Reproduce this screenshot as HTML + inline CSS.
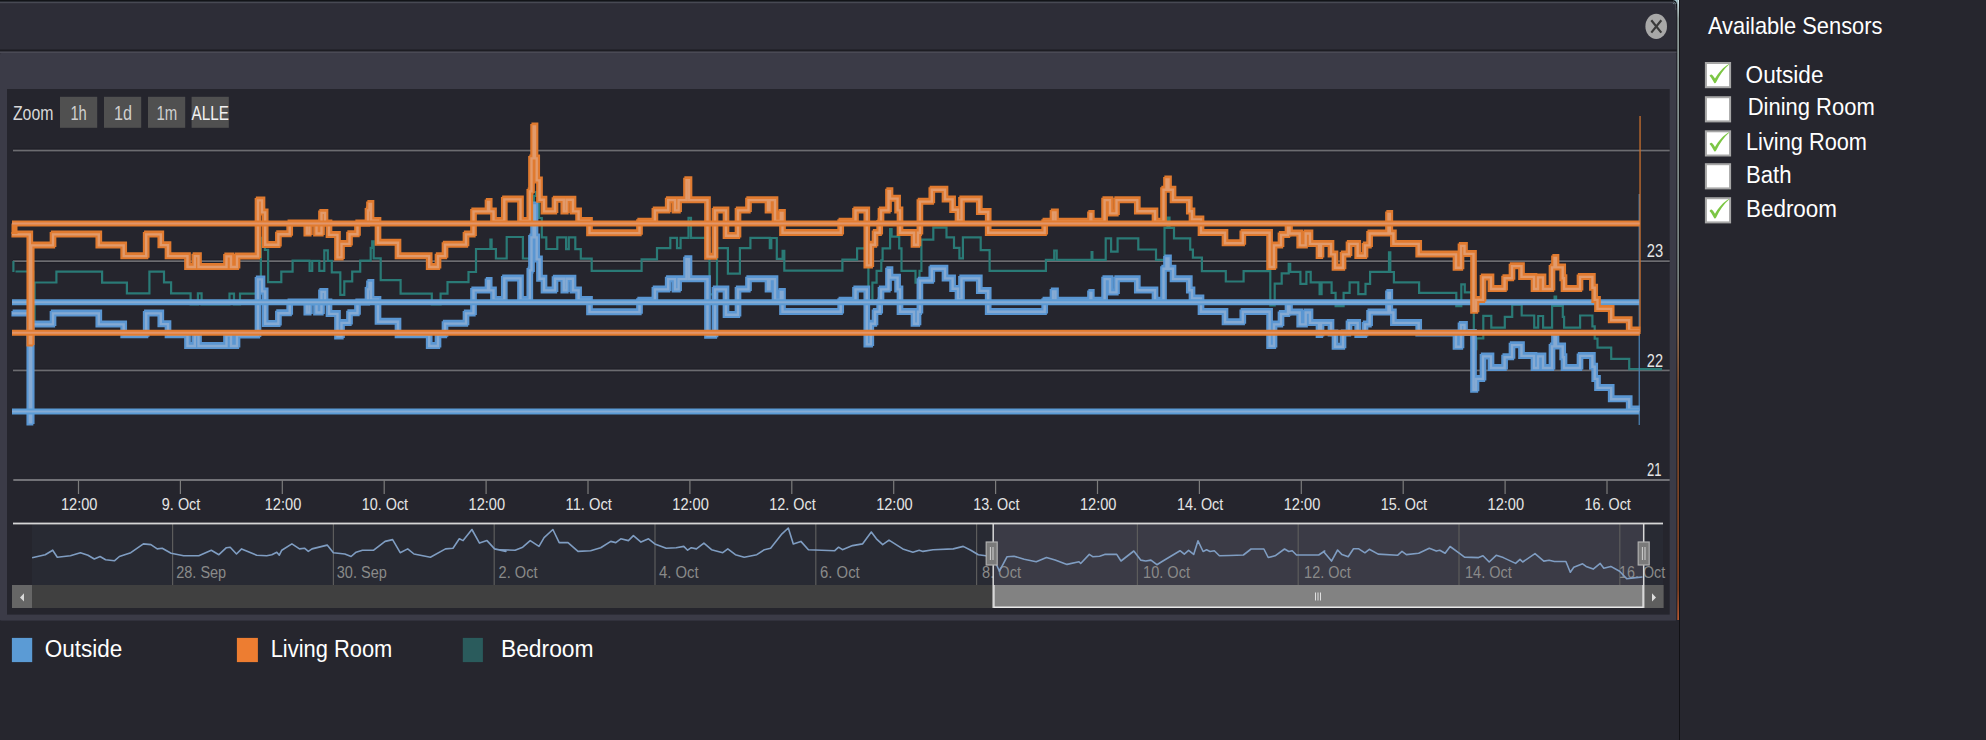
<!DOCTYPE html>
<html><head><meta charset="utf-8"><title>Sensors chart</title>
<style>
html,body{margin:0;padding:0;background:#26262e;overflow:hidden;}
body{width:1986px;height:740px;font-family:"Liberation Sans",sans-serif;}
svg{display:block;}
</style></head><body>
<svg width="1986" height="740" viewBox="0 0 1986 740"><rect x="0" y="0" width="1986" height="740" fill="#26262e"/>
<path d="M0 0H1672Q1677 0 1677 5V620H0Z" fill="#2d2d37"/>
<rect x="0" y="0" width="1672" height="1.6" fill="#121418"/>
<rect x="0" y="1.7" width="1672" height="1.5" fill="#474953"/>
<rect x="0" y="49.5" width="1677" height="2" fill="#1d1d23"/>
<rect x="0" y="51.5" width="1677" height="1.6" fill="#4a4a55"/>
<rect x="0" y="53" width="1676.5" height="567.8" rx="1.5" fill="#3b3b47"/>
<rect x="7" y="89" width="1662.7" height="525.6" fill="#25252d"/>
<defs><linearGradient id="edg" x1="0" y1="0" x2="0" y2="620" gradientUnits="userSpaceOnUse"><stop offset="0" stop-color="#d4e8ec"/><stop offset="0.03" stop-color="#8e9c9a"/><stop offset="0.45" stop-color="#76807e"/><stop offset="0.54" stop-color="#8a6a50"/><stop offset="0.62" stop-color="#7a4a2c"/><stop offset="0.95" stop-color="#7c3e20"/><stop offset="1" stop-color="#b85830"/></linearGradient></defs>
<rect x="1676.5" y="6" width="1" height="614" fill="#1c1c22"/>
<rect x="1677.3" y="0" width="1.8" height="620" fill="url(#edg)"/>
<rect x="1673" y="0" width="4.5" height="4" fill="#9fc0c8"/>
<path d="M1672 0Q1677 0 1677 5V8H1676V5Q1676 1.5 1672 1.5Z" fill="#121418"/>
<path d="M1672 1.7Q1676 1.7 1676.2 6V10H1675.2V6Q1675 3.2 1672 3.2Z" fill="#474953"/>
<rect x="1679" y="0" width="1" height="740" fill="#111115"/>
<rect x="0" y="620.8" width="1679" height="120" fill="#26262e"/>
<ellipse cx="1656.2" cy="26.4" rx="10.8" ry="12.6" fill="#a8a8a8"/>
<path d="M1651.3 20.2L1661.3 32.6M1661.3 20.2L1651.3 32.6" stroke="#3a3a3a" stroke-width="2.2"/>
<g font-family="Liberation Sans, sans-serif">
<text x="12.9" y="120.1" font-size="20.3" textLength="40.5" lengthAdjust="spacingAndGlyphs" fill="#d8d8d8" text-anchor="start">Zoom</text>
<rect x="60.0" y="96.8" width="37.2" height="31" fill="#505050"/>
<text x="70.4" y="120.1" font-size="20.3" textLength="16.4" lengthAdjust="spacingAndGlyphs" fill="#cfcfcf" text-anchor="start">1h</text>
<rect x="104.0" y="96.8" width="37.2" height="31" fill="#505050"/>
<text x="114.1" y="120.1" font-size="20.3" textLength="18.0" lengthAdjust="spacingAndGlyphs" fill="#cfcfcf" text-anchor="start">1d</text>
<rect x="148.0" y="96.8" width="37.2" height="31" fill="#505050"/>
<text x="156.4" y="120.1" font-size="20.3" textLength="20.8" lengthAdjust="spacingAndGlyphs" fill="#cfcfcf" text-anchor="start">1m</text>
<rect x="191.6" y="96.8" width="37.2" height="31" fill="#505050"/>
<text x="191.6" y="120.1" font-size="20.3" textLength="37.4" lengthAdjust="spacingAndGlyphs" fill="#f2f2f2" text-anchor="start">ALLE</text>
</g>
<rect x="13" y="148.5" width="1656.7" height="1" fill="#1f1f27"/>
<rect x="13" y="151.5" width="1656.7" height="1" fill="#1f1f27"/>
<rect x="13" y="149.7" width="1656.7" height="1.7" fill="#6c6c70"/>
<rect x="13" y="259.2" width="1656.7" height="1" fill="#1f1f27"/>
<rect x="13" y="262.2" width="1656.7" height="1" fill="#1f1f27"/>
<rect x="13" y="260.3" width="1656.7" height="1.7" fill="#6c6c70"/>
<rect x="13" y="368.5" width="1656.7" height="1" fill="#1f1f27"/>
<rect x="13" y="371.5" width="1656.7" height="1" fill="#1f1f27"/>
<rect x="13" y="369.6" width="1656.7" height="1.7" fill="#6c6c70"/>
<rect x="13.3" y="479.05" width="1656.4" height="1.9" fill="#77777b"/>
<rect x="77.9" y="480" width="1.2" height="14" fill="#7c7c7c"/>
<rect x="179.8" y="480" width="1.2" height="14" fill="#7c7c7c"/>
<rect x="281.7" y="480" width="1.2" height="14" fill="#7c7c7c"/>
<rect x="383.6" y="480" width="1.2" height="14" fill="#7c7c7c"/>
<rect x="485.5" y="480" width="1.2" height="14" fill="#7c7c7c"/>
<rect x="587.4" y="480" width="1.2" height="14" fill="#7c7c7c"/>
<rect x="689.3" y="480" width="1.2" height="14" fill="#7c7c7c"/>
<rect x="791.2" y="480" width="1.2" height="14" fill="#7c7c7c"/>
<rect x="893.1" y="480" width="1.2" height="14" fill="#7c7c7c"/>
<rect x="995.0" y="480" width="1.2" height="14" fill="#7c7c7c"/>
<rect x="1096.9" y="480" width="1.2" height="14" fill="#7c7c7c"/>
<rect x="1198.8" y="480" width="1.2" height="14" fill="#7c7c7c"/>
<rect x="1300.7" y="480" width="1.2" height="14" fill="#7c7c7c"/>
<rect x="1402.6" y="480" width="1.2" height="14" fill="#7c7c7c"/>
<rect x="1504.5" y="480" width="1.2" height="14" fill="#7c7c7c"/>
<rect x="1606.4" y="480" width="1.2" height="14" fill="#7c7c7c"/>
<g font-family="Liberation Sans, sans-serif">
<text x="79.2" y="510.3" font-size="17.4" textLength="36.5" lengthAdjust="spacingAndGlyphs" fill="#e6e6e6" text-anchor="middle">12:00</text>
<text x="181.1" y="510.3" font-size="17.4" textLength="38.5" lengthAdjust="spacingAndGlyphs" fill="#e6e6e6" text-anchor="middle">9. Oct</text>
<text x="283.0" y="510.3" font-size="17.4" textLength="36.5" lengthAdjust="spacingAndGlyphs" fill="#e6e6e6" text-anchor="middle">12:00</text>
<text x="384.9" y="510.3" font-size="17.4" textLength="46.3" lengthAdjust="spacingAndGlyphs" fill="#e6e6e6" text-anchor="middle">10. Oct</text>
<text x="486.8" y="510.3" font-size="17.4" textLength="36.5" lengthAdjust="spacingAndGlyphs" fill="#e6e6e6" text-anchor="middle">12:00</text>
<text x="588.7" y="510.3" font-size="17.4" textLength="46.3" lengthAdjust="spacingAndGlyphs" fill="#e6e6e6" text-anchor="middle">11. Oct</text>
<text x="690.6" y="510.3" font-size="17.4" textLength="36.5" lengthAdjust="spacingAndGlyphs" fill="#e6e6e6" text-anchor="middle">12:00</text>
<text x="792.5" y="510.3" font-size="17.4" textLength="46.3" lengthAdjust="spacingAndGlyphs" fill="#e6e6e6" text-anchor="middle">12. Oct</text>
<text x="894.4" y="510.3" font-size="17.4" textLength="36.5" lengthAdjust="spacingAndGlyphs" fill="#e6e6e6" text-anchor="middle">12:00</text>
<text x="996.3" y="510.3" font-size="17.4" textLength="46.3" lengthAdjust="spacingAndGlyphs" fill="#e6e6e6" text-anchor="middle">13. Oct</text>
<text x="1098.2" y="510.3" font-size="17.4" textLength="36.5" lengthAdjust="spacingAndGlyphs" fill="#e6e6e6" text-anchor="middle">12:00</text>
<text x="1200.1" y="510.3" font-size="17.4" textLength="46.3" lengthAdjust="spacingAndGlyphs" fill="#e6e6e6" text-anchor="middle">14. Oct</text>
<text x="1302.0" y="510.3" font-size="17.4" textLength="36.5" lengthAdjust="spacingAndGlyphs" fill="#e6e6e6" text-anchor="middle">12:00</text>
<text x="1403.9" y="510.3" font-size="17.4" textLength="46.3" lengthAdjust="spacingAndGlyphs" fill="#e6e6e6" text-anchor="middle">15. Oct</text>
<text x="1505.8" y="510.3" font-size="17.4" textLength="36.5" lengthAdjust="spacingAndGlyphs" fill="#e6e6e6" text-anchor="middle">12:00</text>
<text x="1607.7" y="510.3" font-size="17.4" textLength="46.3" lengthAdjust="spacingAndGlyphs" fill="#e6e6e6" text-anchor="middle">16. Oct</text>
<text x="1646.8" y="257.4" font-size="18.0" textLength="16.4" lengthAdjust="spacingAndGlyphs" fill="#e6e6e6" text-anchor="start">23</text>
<text x="1646.8" y="366.6" font-size="18.0" textLength="16.2" lengthAdjust="spacingAndGlyphs" fill="#e6e6e6" text-anchor="start">22</text>
<text x="1647.0" y="475.8" font-size="18.0" textLength="14.5" lengthAdjust="spacingAndGlyphs" fill="#e6e6e6" text-anchor="start">21</text>
</g>
<g fill="none" stroke-linejoin="miter" stroke-linecap="butt">
<path d="M15.5 271.5H33.2V320.0H34.6V282.5H56.4V271.6H102.1V282.6H126.9V293.3H149.4V271.6H164.0V282.4H171.1V293.4H190.6V304.3H197.9V293.4H201.6V304.3H229.5V293.7H234.0V304.3H240.0V293.7H260.9V237.8H264.9V249.8H268.1V282.2H281.3V271.6H292.6V260.7H309.6V270.9H312.2V260.8H319.3V270.9H324.3V250.3H327.8V260.8H331.8V272.3H340.3V294.8H344.3V281.3H352.2V271.6H360.2V260.7H370.7V247.9H372.2V241.4H373.7V258.3H380.7V280.2H400.6V293.6H431.8V304.5H440.6V293.6H447.5V282.1H468.5V272.0H476.0V249.0H490.4V239.5H491.6V249.0H495.9V258.5H506.7V237.0H522.9V258.5H532.2V229.0H533.9V196.0H535.9V192.0H537.3V196.0H539.0V218.0H541.8V237.3H546.3V249.0H557.3V237.3H566.1V249.1H568.8V237.4H575.3V249.1H580.8V258.6H591.7V270.8H641.6V259.4H657.0V248.1H670.3V237.9H677.0V248.2H680.6V237.9H688.5V217.9H691.0V237.9H709.5V294.4H717.0V248.2H727.9V273.6H739.9V248.2H750.4V237.9H769.8V248.2H771.3V238.0H776.8V258.8H782.6V250.8H784.3V270.7H842.4V259.6H857.1V248.3H868.4V303.3H872.4V282.6H876.6V270.8H881.3V260.4H882.6V248.4H890.1V229.2H891.6V236.6H899.2V248.4H901.5V270.8H915.5V282.7H919.5V270.8H921.4V239.6H933.3V227.7H946.5V237.4H954.0V247.8H959.4V258.4H962.9V237.4H980.7V250.1H989.6V270.9H1045.9V259.8H1054.2V250.5H1056.7V259.8H1091.6V252.1H1092.4V259.9H1105.7V238.3H1111.1V251.6H1117.6V238.3H1138.3V249.5H1156.0V259.9H1164.5V227.9H1167.5V217.6H1169.5V227.9H1174.0V238.3H1190.2V249.6H1192.9V257.7H1201.9V271.1H1225.8V281.5H1243.6V271.1H1270.3V305.3H1274.7V283.7H1281.7V273.3H1288.7V263.8H1290.2V271.9H1300.4V283.8H1306.4V271.9H1310.7V282.3H1319.6V294.2H1321.6V282.3H1331.6V292.8H1335.6V306.1H1343.6V292.8H1349.6V282.3H1358.3V294.2H1365.5V283.8H1370.1V271.9H1389.0V252.4H1390.3V272.0H1393.9V282.4H1419.1V292.9H1456.3V306.2H1461.3V284.4H1464.8V292.4H1473.8V349.2H1476.3V338.4H1483.3V315.9H1491.3V327.6H1504.8V316.8H1512.2V304.7H1521.7V315.5H1534.2V327.6H1538.2V316.0H1543.1V327.6H1552.1V306.0H1554.6V296.5H1556.1V306.0H1562.8V316.8H1564.1V327.6H1580.1V315.5H1592.4V326.4H1594.7V338.6H1597.5V347.6H1611.2V358.9H1629.2V369.2H1662.0" stroke="#2a7a76" stroke-width="2.2"/>
<path d="M13.4 261V272" stroke="#2a7a76" stroke-width="2.2"/>
<rect x="1638.6" y="194" width="1.3" height="231" fill="#4a7fb0"/>
<path d="M12.0 313.0H29.8V422.0H31.2V324.0H53.0V313.0H98.8V324.0H123.7V334.7H146.2V313.0H160.8V323.7H168.0V334.7H187.5V345.6H194.8V334.7H198.5V345.6H226.5V335.0H231.0V345.6H237.0V335.0H258.0V279.0H262.0V291.0H265.2V323.4H278.4V312.8H289.7V301.9H306.8V312.1H309.4V302.0H316.5V312.1H321.5V291.5H325.0V302.0H329.0V313.5H337.5V336.0H341.5V322.5H349.5V312.8H357.5V301.9H368.0V289.0H369.5V282.5H371.0V299.4H378.0V321.3H398.0V334.7H429.2V345.6H438.0V334.7H445.0V323.2H466.0V313.0H473.5V290.0H488.0V280.5H489.2V290.0H493.5V299.5H504.3V278.0H520.5V299.5H529.8V270.0H531.5V237.0H533.6V205.0H535.0V237.0H536.7V259.0H539.5V278.3H544.0V290.0H555.0V278.3H563.8V290.0H566.5V278.3H573.0V290.0H578.6V299.5H589.5V311.7H639.5V300.3H654.9V289.0H668.2V278.7H675.0V289.0H678.6V278.7H686.5V258.7H689.0V278.7H707.5V335.2H715.0V289.0H726.0V314.4H738.0V289.0H748.5V278.7H768.0V289.0H769.5V278.7H775.0V299.5H780.8V291.5H782.5V311.4H840.7V300.3H855.5V289.0H866.8V344.0H870.8V323.3H875.0V311.4H879.7V301.0H881.0V289.0H888.5V269.8H890.0V277.2H897.6V289.0H900.0V311.4H914.0V323.3H918.0V311.4H919.9V280.2H931.8V268.3H945.0V278.0H952.6V288.4H958.0V299.0H961.5V278.0H979.3V290.6H988.2V311.4H1044.7V300.3H1053.0V291.0H1055.5V300.3H1090.5V292.5H1091.3V300.3H1104.6V278.7H1110.0V292.0H1116.5V278.7H1137.3V289.9H1155.0V300.3H1163.5V268.3H1166.5V258.0H1168.5V268.3H1173.0V278.7H1189.3V289.9H1192.0V298.0H1201.0V311.4H1225.0V321.8H1242.8V311.4H1269.6V345.6H1274.0V324.0H1281.0V313.6H1288.0V304.0H1289.5V312.1H1299.7V324.0H1305.7V312.1H1310.0V322.5H1319.0V334.4H1321.0V322.5H1331.0V333.0H1335.0V346.3H1343.0V333.0H1349.0V322.5H1357.7V334.4H1365.0V324.0H1369.6V312.1H1388.5V292.5H1389.8V312.1H1393.4V322.5H1418.7V333.0H1456.0V346.3H1461.0V324.5H1464.5V332.5H1473.5V389.3H1476.0V378.5H1483.0V356.0H1491.0V367.6H1504.6V356.8H1512.0V344.7H1521.5V355.5H1534.0V367.6H1538.0V356.0H1543.0V367.6H1552.0V346.0H1554.5V336.5H1556.0V346.0H1562.7V356.8H1564.0V367.6H1580.0V355.5H1592.4V366.3H1594.7V378.5H1597.5V387.5H1611.2V398.8H1629.2V409.1H1639.2" transform="translate(-0.6,0.75)" stroke="#5a96d2" stroke-width="5.5"/>
<path d="M12.0 313.0H29.8V422.0H31.2V324.0H53.0V313.0H98.8V324.0H123.7V334.7H146.2V313.0H160.8V323.7H168.0V334.7H187.5V345.6H194.8V334.7H198.5V345.6H226.5V335.0H231.0V345.6H237.0V335.0H258.0V279.0H262.0V291.0H265.2V323.4H278.4V312.8H289.7V301.9H306.8V312.1H309.4V302.0H316.5V312.1H321.5V291.5H325.0V302.0H329.0V313.5H337.5V336.0H341.5V322.5H349.5V312.8H357.5V301.9H368.0V289.0H369.5V282.5H371.0V299.4H378.0V321.3H398.0V334.7H429.2V345.6H438.0V334.7H445.0V323.2H466.0V313.0H473.5V290.0H488.0V280.5H489.2V290.0H493.5V299.5H504.3V278.0H520.5V299.5H529.8V270.0H531.5V237.0H533.6V205.0H535.0V237.0H536.7V259.0H539.5V278.3H544.0V290.0H555.0V278.3H563.8V290.0H566.5V278.3H573.0V290.0H578.6V299.5H589.5V311.7H639.5V300.3H654.9V289.0H668.2V278.7H675.0V289.0H678.6V278.7H686.5V258.7H689.0V278.7H707.5V335.2H715.0V289.0H726.0V314.4H738.0V289.0H748.5V278.7H768.0V289.0H769.5V278.7H775.0V299.5H780.8V291.5H782.5V311.4H840.7V300.3H855.5V289.0H866.8V344.0H870.8V323.3H875.0V311.4H879.7V301.0H881.0V289.0H888.5V269.8H890.0V277.2H897.6V289.0H900.0V311.4H914.0V323.3H918.0V311.4H919.9V280.2H931.8V268.3H945.0V278.0H952.6V288.4H958.0V299.0H961.5V278.0H979.3V290.6H988.2V311.4H1044.7V300.3H1053.0V291.0H1055.5V300.3H1090.5V292.5H1091.3V300.3H1104.6V278.7H1110.0V292.0H1116.5V278.7H1137.3V289.9H1155.0V300.3H1163.5V268.3H1166.5V258.0H1168.5V268.3H1173.0V278.7H1189.3V289.9H1192.0V298.0H1201.0V311.4H1225.0V321.8H1242.8V311.4H1269.6V345.6H1274.0V324.0H1281.0V313.6H1288.0V304.0H1289.5V312.1H1299.7V324.0H1305.7V312.1H1310.0V322.5H1319.0V334.4H1321.0V322.5H1331.0V333.0H1335.0V346.3H1343.0V333.0H1349.0V322.5H1357.7V334.4H1365.0V324.0H1369.6V312.1H1388.5V292.5H1389.8V312.1H1393.4V322.5H1418.7V333.0H1456.0V346.3H1461.0V324.5H1464.5V332.5H1473.5V389.3H1476.0V378.5H1483.0V356.0H1491.0V367.6H1504.6V356.8H1512.0V344.7H1521.5V355.5H1534.0V367.6H1538.0V356.0H1543.0V367.6H1552.0V346.0H1554.5V336.5H1556.0V346.0H1562.7V356.8H1564.0V367.6H1580.0V355.5H1592.4V366.3H1594.7V378.5H1597.5V387.5H1611.2V398.8H1629.2V409.1H1639.2" transform="translate(0.6,-0.75)" stroke="#5a96d2" stroke-width="5.5"/>
<path d="M12.0 313.0H29.8V422.0H31.2V324.0H53.0V313.0H98.8V324.0H123.7V334.7H146.2V313.0H160.8V323.7H168.0V334.7H187.5V345.6H194.8V334.7H198.5V345.6H226.5V335.0H231.0V345.6H237.0V335.0H258.0V279.0H262.0V291.0H265.2V323.4H278.4V312.8H289.7V301.9H306.8V312.1H309.4V302.0H316.5V312.1H321.5V291.5H325.0V302.0H329.0V313.5H337.5V336.0H341.5V322.5H349.5V312.8H357.5V301.9H368.0V289.0H369.5V282.5H371.0V299.4H378.0V321.3H398.0V334.7H429.2V345.6H438.0V334.7H445.0V323.2H466.0V313.0H473.5V290.0H488.0V280.5H489.2V290.0H493.5V299.5H504.3V278.0H520.5V299.5H529.8V270.0H531.5V237.0H533.6V205.0H535.0V237.0H536.7V259.0H539.5V278.3H544.0V290.0H555.0V278.3H563.8V290.0H566.5V278.3H573.0V290.0H578.6V299.5H589.5V311.7H639.5V300.3H654.9V289.0H668.2V278.7H675.0V289.0H678.6V278.7H686.5V258.7H689.0V278.7H707.5V335.2H715.0V289.0H726.0V314.4H738.0V289.0H748.5V278.7H768.0V289.0H769.5V278.7H775.0V299.5H780.8V291.5H782.5V311.4H840.7V300.3H855.5V289.0H866.8V344.0H870.8V323.3H875.0V311.4H879.7V301.0H881.0V289.0H888.5V269.8H890.0V277.2H897.6V289.0H900.0V311.4H914.0V323.3H918.0V311.4H919.9V280.2H931.8V268.3H945.0V278.0H952.6V288.4H958.0V299.0H961.5V278.0H979.3V290.6H988.2V311.4H1044.7V300.3H1053.0V291.0H1055.5V300.3H1090.5V292.5H1091.3V300.3H1104.6V278.7H1110.0V292.0H1116.5V278.7H1137.3V289.9H1155.0V300.3H1163.5V268.3H1166.5V258.0H1168.5V268.3H1173.0V278.7H1189.3V289.9H1192.0V298.0H1201.0V311.4H1225.0V321.8H1242.8V311.4H1269.6V345.6H1274.0V324.0H1281.0V313.6H1288.0V304.0H1289.5V312.1H1299.7V324.0H1305.7V312.1H1310.0V322.5H1319.0V334.4H1321.0V322.5H1331.0V333.0H1335.0V346.3H1343.0V333.0H1349.0V322.5H1357.7V334.4H1365.0V324.0H1369.6V312.1H1388.5V292.5H1389.8V312.1H1393.4V322.5H1418.7V333.0H1456.0V346.3H1461.0V324.5H1464.5V332.5H1473.5V389.3H1476.0V378.5H1483.0V356.0H1491.0V367.6H1504.6V356.8H1512.0V344.7H1521.5V355.5H1534.0V367.6H1538.0V356.0H1543.0V367.6H1552.0V346.0H1554.5V336.5H1556.0V346.0H1562.7V356.8H1564.0V367.6H1580.0V355.5H1592.4V366.3H1594.7V378.5H1597.5V387.5H1611.2V398.8H1629.2V409.1H1639.2" transform="translate(0,0.4)" stroke="#85aad3" stroke-width="2.4"/>
<path d="M12 302.3H1639.2M12 411.6H1639.2" stroke="#5b9bd5" stroke-width="6"/>
<path d="M12 302.3H1639.2M12 411.6H1639.2" stroke="#86acd4" stroke-width="2"/>
<rect x="1639.4" y="116" width="1.3" height="218" fill="#c8702e"/>
<path d="M12.0 234.0H29.8V343.0H31.2V245.0H53.0V234.0H98.8V245.0H123.7V255.7H146.2V234.0H160.8V244.7H168.0V255.7H187.5V266.6H194.8V255.7H198.5V266.6H226.5V256.0H231.0V266.6H237.0V256.0H258.0V200.0H262.0V212.0H265.2V244.4H278.4V233.8H289.7V222.9H306.8V233.1H309.4V223.0H316.5V233.1H321.5V212.5H325.0V223.0H329.0V234.5H337.5V257.0H341.5V243.5H349.5V233.8H357.5V222.9H368.0V210.0H369.5V203.5H371.0V220.4H378.0V242.3H398.0V255.7H429.2V266.6H438.0V255.7H445.0V244.2H466.0V234.0H473.5V211.0H488.0V201.5H489.2V211.0H493.5V220.5H504.3V199.0H520.5V220.5H529.8V191.0H531.5V158.0H533.6V126.0H535.0V158.0H536.7V180.0H539.5V199.3H544.0V211.0H555.0V199.3H563.8V211.0H566.5V199.3H573.0V211.0H578.6V220.5H589.5V232.7H639.5V221.3H654.9V210.0H668.2V199.7H675.0V210.0H678.6V199.7H686.5V179.7H689.0V199.7H707.5V256.2H715.0V210.0H726.0V235.4H738.0V210.0H748.5V199.7H768.0V210.0H769.5V199.7H775.0V220.5H780.8V212.5H782.5V232.4H840.7V221.3H855.5V210.0H866.8V265.0H870.8V244.3H875.0V232.4H879.7V222.0H881.0V210.0H888.5V190.8H890.0V198.2H897.6V210.0H900.0V232.4H914.0V244.3H918.0V232.4H919.9V201.2H931.8V189.3H945.0V199.0H952.6V209.4H958.0V220.0H961.5V199.0H979.3V211.6H988.2V232.4H1044.7V221.3H1053.0V212.0H1055.5V221.3H1090.5V213.5H1091.3V221.3H1104.6V199.7H1110.0V213.0H1116.5V199.7H1137.3V210.9H1155.0V221.3H1163.5V189.3H1166.5V179.0H1168.5V189.3H1173.0V199.7H1189.3V210.9H1192.0V219.0H1201.0V232.4H1225.0V242.8H1242.8V232.4H1269.6V266.6H1274.0V245.0H1281.0V234.6H1288.0V225.0H1289.5V233.1H1299.7V245.0H1305.7V233.1H1310.0V243.5H1319.0V255.4H1321.0V243.5H1331.0V254.0H1335.0V267.3H1343.0V254.0H1349.0V243.5H1357.7V255.4H1365.0V245.0H1369.6V233.1H1388.5V213.5H1389.8V233.1H1393.4V243.5H1418.7V254.0H1456.0V267.3H1461.0V245.5H1464.5V253.5H1473.5V310.3H1476.0V299.5H1483.0V277.0H1491.0V288.6H1504.6V277.8H1512.0V265.7H1521.5V276.5H1534.0V288.6H1538.0V277.0H1543.0V288.6H1552.0V267.0H1554.5V257.5H1556.0V267.0H1562.7V277.8H1564.0V288.6H1580.0V276.5H1592.4V287.3H1594.7V299.5H1597.5V308.5H1611.2V319.8H1629.2V330.1H1639.7" transform="translate(-0.6,0.75)" stroke="#e07a2f" stroke-width="5.5"/>
<path d="M12.0 234.0H29.8V343.0H31.2V245.0H53.0V234.0H98.8V245.0H123.7V255.7H146.2V234.0H160.8V244.7H168.0V255.7H187.5V266.6H194.8V255.7H198.5V266.6H226.5V256.0H231.0V266.6H237.0V256.0H258.0V200.0H262.0V212.0H265.2V244.4H278.4V233.8H289.7V222.9H306.8V233.1H309.4V223.0H316.5V233.1H321.5V212.5H325.0V223.0H329.0V234.5H337.5V257.0H341.5V243.5H349.5V233.8H357.5V222.9H368.0V210.0H369.5V203.5H371.0V220.4H378.0V242.3H398.0V255.7H429.2V266.6H438.0V255.7H445.0V244.2H466.0V234.0H473.5V211.0H488.0V201.5H489.2V211.0H493.5V220.5H504.3V199.0H520.5V220.5H529.8V191.0H531.5V158.0H533.6V126.0H535.0V158.0H536.7V180.0H539.5V199.3H544.0V211.0H555.0V199.3H563.8V211.0H566.5V199.3H573.0V211.0H578.6V220.5H589.5V232.7H639.5V221.3H654.9V210.0H668.2V199.7H675.0V210.0H678.6V199.7H686.5V179.7H689.0V199.7H707.5V256.2H715.0V210.0H726.0V235.4H738.0V210.0H748.5V199.7H768.0V210.0H769.5V199.7H775.0V220.5H780.8V212.5H782.5V232.4H840.7V221.3H855.5V210.0H866.8V265.0H870.8V244.3H875.0V232.4H879.7V222.0H881.0V210.0H888.5V190.8H890.0V198.2H897.6V210.0H900.0V232.4H914.0V244.3H918.0V232.4H919.9V201.2H931.8V189.3H945.0V199.0H952.6V209.4H958.0V220.0H961.5V199.0H979.3V211.6H988.2V232.4H1044.7V221.3H1053.0V212.0H1055.5V221.3H1090.5V213.5H1091.3V221.3H1104.6V199.7H1110.0V213.0H1116.5V199.7H1137.3V210.9H1155.0V221.3H1163.5V189.3H1166.5V179.0H1168.5V189.3H1173.0V199.7H1189.3V210.9H1192.0V219.0H1201.0V232.4H1225.0V242.8H1242.8V232.4H1269.6V266.6H1274.0V245.0H1281.0V234.6H1288.0V225.0H1289.5V233.1H1299.7V245.0H1305.7V233.1H1310.0V243.5H1319.0V255.4H1321.0V243.5H1331.0V254.0H1335.0V267.3H1343.0V254.0H1349.0V243.5H1357.7V255.4H1365.0V245.0H1369.6V233.1H1388.5V213.5H1389.8V233.1H1393.4V243.5H1418.7V254.0H1456.0V267.3H1461.0V245.5H1464.5V253.5H1473.5V310.3H1476.0V299.5H1483.0V277.0H1491.0V288.6H1504.6V277.8H1512.0V265.7H1521.5V276.5H1534.0V288.6H1538.0V277.0H1543.0V288.6H1552.0V267.0H1554.5V257.5H1556.0V267.0H1562.7V277.8H1564.0V288.6H1580.0V276.5H1592.4V287.3H1594.7V299.5H1597.5V308.5H1611.2V319.8H1629.2V330.1H1639.7" transform="translate(0.6,-0.75)" stroke="#e07a2f" stroke-width="5.5"/>
<path d="M12.0 234.0H29.8V343.0H31.2V245.0H53.0V234.0H98.8V245.0H123.7V255.7H146.2V234.0H160.8V244.7H168.0V255.7H187.5V266.6H194.8V255.7H198.5V266.6H226.5V256.0H231.0V266.6H237.0V256.0H258.0V200.0H262.0V212.0H265.2V244.4H278.4V233.8H289.7V222.9H306.8V233.1H309.4V223.0H316.5V233.1H321.5V212.5H325.0V223.0H329.0V234.5H337.5V257.0H341.5V243.5H349.5V233.8H357.5V222.9H368.0V210.0H369.5V203.5H371.0V220.4H378.0V242.3H398.0V255.7H429.2V266.6H438.0V255.7H445.0V244.2H466.0V234.0H473.5V211.0H488.0V201.5H489.2V211.0H493.5V220.5H504.3V199.0H520.5V220.5H529.8V191.0H531.5V158.0H533.6V126.0H535.0V158.0H536.7V180.0H539.5V199.3H544.0V211.0H555.0V199.3H563.8V211.0H566.5V199.3H573.0V211.0H578.6V220.5H589.5V232.7H639.5V221.3H654.9V210.0H668.2V199.7H675.0V210.0H678.6V199.7H686.5V179.7H689.0V199.7H707.5V256.2H715.0V210.0H726.0V235.4H738.0V210.0H748.5V199.7H768.0V210.0H769.5V199.7H775.0V220.5H780.8V212.5H782.5V232.4H840.7V221.3H855.5V210.0H866.8V265.0H870.8V244.3H875.0V232.4H879.7V222.0H881.0V210.0H888.5V190.8H890.0V198.2H897.6V210.0H900.0V232.4H914.0V244.3H918.0V232.4H919.9V201.2H931.8V189.3H945.0V199.0H952.6V209.4H958.0V220.0H961.5V199.0H979.3V211.6H988.2V232.4H1044.7V221.3H1053.0V212.0H1055.5V221.3H1090.5V213.5H1091.3V221.3H1104.6V199.7H1110.0V213.0H1116.5V199.7H1137.3V210.9H1155.0V221.3H1163.5V189.3H1166.5V179.0H1168.5V189.3H1173.0V199.7H1189.3V210.9H1192.0V219.0H1201.0V232.4H1225.0V242.8H1242.8V232.4H1269.6V266.6H1274.0V245.0H1281.0V234.6H1288.0V225.0H1289.5V233.1H1299.7V245.0H1305.7V233.1H1310.0V243.5H1319.0V255.4H1321.0V243.5H1331.0V254.0H1335.0V267.3H1343.0V254.0H1349.0V243.5H1357.7V255.4H1365.0V245.0H1369.6V233.1H1388.5V213.5H1389.8V233.1H1393.4V243.5H1418.7V254.0H1456.0V267.3H1461.0V245.5H1464.5V253.5H1473.5V310.3H1476.0V299.5H1483.0V277.0H1491.0V288.6H1504.6V277.8H1512.0V265.7H1521.5V276.5H1534.0V288.6H1538.0V277.0H1543.0V288.6H1552.0V267.0H1554.5V257.5H1556.0V267.0H1562.7V277.8H1564.0V288.6H1580.0V276.5H1592.4V287.3H1594.7V299.5H1597.5V308.5H1611.2V319.8H1629.2V330.1H1639.7" transform="translate(0,0.4)" stroke="#e29a6b" stroke-width="2.4"/>
<path d="M12 223.5H1639.7M12 332.7H1639.7M14.5 223.5V234" stroke="#e27c30" stroke-width="6"/>
<path d="M12 223.5H1639.7M12 332.7H1639.7" stroke="#e2956a" stroke-width="2"/>
</g>
<rect x="32" y="524" width="1631" height="61" fill="#282a33"/>
<rect x="993.2" y="524" width="650.5" height="61" fill="#3b3b46"/>
<rect x="172.0" y="524" width="1.2" height="61" fill="#5c5c5c"/>
<rect x="332.8" y="524" width="1.2" height="61" fill="#5c5c5c"/>
<rect x="493.6" y="524" width="1.2" height="61" fill="#5c5c5c"/>
<rect x="654.4" y="524" width="1.2" height="61" fill="#5c5c5c"/>
<rect x="815.2" y="524" width="1.2" height="61" fill="#5c5c5c"/>
<rect x="976.0" y="524" width="1.2" height="61" fill="#5c5c5c"/>
<rect x="1136.8" y="524" width="1.2" height="61" fill="#5c5c5c"/>
<rect x="1297.6" y="524" width="1.2" height="61" fill="#5c5c5c"/>
<rect x="1458.4" y="524" width="1.2" height="61" fill="#5c5c5c"/>
<rect x="1619.2" y="524" width="1.2" height="61" fill="#5c5c5c"/>
<g font-family="Liberation Sans, sans-serif">
<text x="176.2" y="578.4" font-size="17.4" textLength="50.0" lengthAdjust="spacingAndGlyphs" fill="#8a8a8a" text-anchor="start">28. Sep</text>
<text x="336.8" y="578.4" font-size="17.4" textLength="50.0" lengthAdjust="spacingAndGlyphs" fill="#8a8a8a" text-anchor="start">30. Sep</text>
<text x="498.6" y="578.4" font-size="17.4" textLength="38.9" lengthAdjust="spacingAndGlyphs" fill="#8a8a8a" text-anchor="start">2. Oct</text>
<text x="659.0" y="578.4" font-size="17.4" textLength="39.6" lengthAdjust="spacingAndGlyphs" fill="#8a8a8a" text-anchor="start">4. Oct</text>
<text x="820.1" y="578.4" font-size="17.4" textLength="39.6" lengthAdjust="spacingAndGlyphs" fill="#8a8a8a" text-anchor="start">6. Oct</text>
<text x="982.1" y="578.4" font-size="17.4" textLength="38.9" lengthAdjust="spacingAndGlyphs" fill="#8a8a8a" text-anchor="start">8. Oct</text>
<text x="1143.1" y="578.4" font-size="17.4" textLength="46.9" lengthAdjust="spacingAndGlyphs" fill="#8a8a8a" text-anchor="start">10. Oct</text>
<text x="1304.1" y="578.4" font-size="17.4" textLength="46.6" lengthAdjust="spacingAndGlyphs" fill="#8a8a8a" text-anchor="start">12. Oct</text>
<text x="1465.0" y="578.4" font-size="17.4" textLength="46.8" lengthAdjust="spacingAndGlyphs" fill="#8a8a8a" text-anchor="start">14. Oct</text>
<text x="1619.1" y="578.4" font-size="17.4" textLength="46.1" lengthAdjust="spacingAndGlyphs" fill="#8a8a8a" text-anchor="start">16. Oct</text>
</g>
<path d="M32.1 557.7 L45.2 554.7 L52.7 550.2 L57.3 557.2 L70.4 555.7 L80.4 552.7 L88.0 555.2 L94.3 559.0 L100.1 556.5 L105.6 559.7 L114.4 560.8 L119.4 556.5 L130.8 552.7 L143.4 543.9 L150.9 544.6 L157.2 548.9 L162.2 548.2 L171.1 553.2 L183.6 555.7 L198.8 555.7 L211.3 550.2 L218.9 554.7 L226.4 547.7 L230.2 547.2 L236.5 554.0 L241.6 548.9 L256.7 555.2 L266.7 555.7 L271.8 554.7 L276.8 552.2 L279.3 555.2 L281.8 550.2 L291.9 543.9 L299.5 548.9 L304.5 548.2 L308.3 551.4 L312.0 548.9 L327.2 545.1 L333.4 552.7 L344.8 554.0 L351.1 556.5 L356.1 552.2 L362.4 550.2 L373.7 550.2 L385.1 541.4 L392.6 539.6 L400.2 552.7 L407.7 548.9 L414.0 554.0 L430.4 557.2 L445.5 548.9 L453.0 548.2 L459.3 538.8 L463.1 540.6 L471.9 529.5 L479.5 543.1 L487.0 540.6 L494.6 548.9 L505.9 551.4 L500.0 549.7 L515.1 550.2 L522.7 547.2 L530.2 540.6 L539.0 546.4 L544.1 537.6 L552.9 529.5 L559.2 542.6 L568.0 542.6 L578.0 551.4 L590.6 550.7 L600.7 547.7 L610.8 541.4 L615.8 542.6 L620.8 538.8 L628.4 540.6 L633.4 535.6 L641.0 542.1 L648.5 538.8 L654.8 543.9 L666.2 548.2 L676.2 547.7 L683.8 546.4 L687.6 550.2 L691.3 547.7 L696.4 548.9 L703.9 543.1 L711.5 549.7 L722.8 552.7 L727.8 548.9 L735.4 554.7 L744.2 557.2 L756.8 554.7 L764.4 549.7 L770.6 548.2 L782.0 533.8 L788.3 528.0 L793.3 543.9 L800.9 541.4 L808.4 549.7 L834.8 550.7 L838.6 547.2 L842.4 549.7 L852.5 545.6 L862.5 543.9 L871.3 532.0 L876.4 538.8 L882.7 544.6 L889.0 540.1 L902.8 548.9 L912.9 552.2 L919.2 550.2 L923.0 551.4 L933.0 549.7 L953.2 548.9 L963.2 546.4 L970.8 550.2 L978.3 554.7 L985.9 555.7 L996.8 565.2 L999.4 571.2 L1007.1 556.7 L1014.0 556.2 L1024.2 559.2 L1036.2 561.8 L1046.5 557.5 L1055.1 560.1 L1067.0 564.4 L1079.0 561.8 L1080.7 563.5 L1089.3 554.4 L1092.7 556.7 L1099.6 556.2 L1104.7 554.4 L1116.7 554.4 L1121.0 561.0 L1133.8 551.0 L1140.7 560.1 L1145.8 561.0 L1150.9 560.1 L1156.9 564.7 L1162.9 561.0 L1180.0 550.7 L1184.3 554.1 L1188.6 550.3 L1193.7 554.4 L1198.0 540.8 L1203.1 551.5 L1206.6 549.8 L1210.0 551.5 L1214.3 550.7 L1219.4 555.8 L1229.7 555.5 L1243.4 555.0 L1251.1 549.0 L1263.9 549.0 L1268.2 557.5 L1275.1 555.8 L1284.5 549.0 L1288.8 551.5 L1292.2 550.7 L1296.5 555.0 L1318.7 555.0 L1324.7 551.0 L1323.5 551.4 L1331.5 561.1 L1337.6 550.0 L1342.0 554.6 L1348.2 556.7 L1353.5 548.8 L1358.8 548.8 L1364.9 552.8 L1369.3 549.3 L1378.2 554.1 L1397.5 555.3 L1402.0 551.4 L1406.4 554.6 L1418.7 553.2 L1429.3 548.3 L1436.3 551.1 L1439.8 550.2 L1445.1 553.2 L1450.1 546.5 L1459.2 553.2 L1464.5 557.1 L1478.6 557.6 L1483.0 555.8 L1489.2 562.0 L1496.2 555.3 L1503.3 557.6 L1515.6 563.4 L1520.0 559.4 L1522.7 562.0 L1535.0 553.6 L1543.8 561.1 L1549.1 560.2 L1554.4 561.5 L1565.9 561.5 L1570.3 572.2 L1573.8 567.3 L1582.6 563.8 L1586.1 566.4 L1593.2 569.1 L1600.2 563.4 L1603.8 568.2 L1610.8 566.4 L1619.6 571.2 L1626.7 578.8 L1633.7 577.9 L1642.5 577.0" fill="none" stroke="#7f9dc2" stroke-width="1.6" stroke-linejoin="round"/>
<rect x="13" y="522.6" width="1650" height="1.8" fill="#d6d6d6"/>
<rect x="12" y="585" width="1651.5" height="23" fill="#404040"/>
<rect x="12" y="585" width="20" height="23" fill="#666666"/>
<path d="M24 593.3L20 597.4L24 601.5Z" fill="#d8d8d8"/>
<rect x="1643.7" y="585" width="19.8" height="23" fill="#5e5e5e"/>
<path d="M1652 593.3L1656 597.4L1652 601.5Z" fill="#dddddd"/>
<rect x="993.2" y="585" width="650.5" height="23" fill="#828282"/>
<path d="M993.9 585V607.3H1643.1V585" fill="none" stroke="#e8e8e8" stroke-width="1.4"/>
<path d="M1315.5 592.5V600.5M1318 592.5V600.5M1320.5 592.5V600.5" stroke="#e0e0e0" stroke-width="1"/>
<path d="M993.2 524V608M1643.7 524V608" stroke="#d8d8d8" stroke-width="1.5"/>
<rect x="986.2" y="542" width="11" height="23" fill="#7a7a7a" stroke="#b0b0b0" stroke-width="1.2"/>
<path d="M990.4 547V560M993.0 547V560" stroke="#d0d0d0" stroke-width="1"/>
<rect x="1638.2" y="542" width="11" height="23" fill="#7a7a7a" stroke="#b0b0b0" stroke-width="1.2"/>
<path d="M1642.4 547V560M1645.0 547V560" stroke="#d0d0d0" stroke-width="1"/>
<rect x="11.9" y="637.9" width="20.3" height="24.2" fill="#5b9bd5"/>
<rect x="236.9" y="637.9" width="21" height="24.2" fill="#ed7d31"/>
<rect x="462.8" y="637.9" width="20.1" height="24.2" fill="#2a5b5c"/>
<g font-family="Liberation Sans, sans-serif">
<text x="44.8" y="657.0" font-size="23.1" textLength="77.6" lengthAdjust="spacingAndGlyphs" fill="#ffffff" text-anchor="start">Outside</text>
<text x="270.7" y="657.0" font-size="23.1" textLength="121.6" lengthAdjust="spacingAndGlyphs" fill="#ffffff" text-anchor="start">Living Room</text>
<text x="500.9" y="657.0" font-size="23.1" textLength="92.7" lengthAdjust="spacingAndGlyphs" fill="#ffffff" text-anchor="start">Bedroom</text>
<text x="1707.9" y="34.2" font-size="23.8" textLength="174.6" lengthAdjust="spacingAndGlyphs" fill="#ffffff" text-anchor="start">Available Sensors</text>
</g>
<rect x="1705.9" y="63.0" width="24.2" height="24.2" fill="#ffffff" stroke="#a6a6a6" stroke-width="2"/>
<path transform="translate(1705,62.0)" d="M4.5 13.8C5.2 12.8 6.0 12.3 6.6 12.4C7.4 12.6 8.4 14.2 10.0 16.6C13.5 10.5 18.5 4.8 23.9 1.9L24.1 2.4C19.2 6.5 14.6 13.0 11.3 20.0C10.7 21.2 9.9 21.5 9.3 21.0C8.6 20.3 7.0 16.2 4.5 13.8Z" fill="#7cc644"/>
<g font-family="Liberation Sans, sans-serif"><text x="1745.6" y="82.9" font-size="23.1" textLength="77.9" lengthAdjust="spacingAndGlyphs" fill="#ffffff" text-anchor="start">Outside</text></g>
<rect x="1705.9" y="97.2" width="24.2" height="24.2" fill="#ffffff" stroke="#a6a6a6" stroke-width="2"/>
<g font-family="Liberation Sans, sans-serif"><text x="1747.7" y="115.3" font-size="23.1" textLength="127.0" lengthAdjust="spacingAndGlyphs" fill="#ffffff" text-anchor="start">Dining Room</text></g>
<rect x="1705.9" y="131.3" width="24.2" height="24.2" fill="#ffffff" stroke="#a6a6a6" stroke-width="2"/>
<path transform="translate(1705,130.3)" d="M4.5 13.8C5.2 12.8 6.0 12.3 6.6 12.4C7.4 12.6 8.4 14.2 10.0 16.6C13.5 10.5 18.5 4.8 23.9 1.9L24.1 2.4C19.2 6.5 14.6 13.0 11.3 20.0C10.7 21.2 9.9 21.5 9.3 21.0C8.6 20.3 7.0 16.2 4.5 13.8Z" fill="#7cc644"/>
<g font-family="Liberation Sans, sans-serif"><text x="1746.0" y="149.8" font-size="23.1" textLength="121.0" lengthAdjust="spacingAndGlyphs" fill="#ffffff" text-anchor="start">Living Room</text></g>
<rect x="1705.9" y="164.2" width="24.2" height="24.2" fill="#ffffff" stroke="#a6a6a6" stroke-width="2"/>
<g font-family="Liberation Sans, sans-serif"><text x="1746.0" y="182.6" font-size="23.1" textLength="45.5" lengthAdjust="spacingAndGlyphs" fill="#ffffff" text-anchor="start">Bath</text></g>
<rect x="1705.9" y="198.2" width="24.2" height="24.2" fill="#ffffff" stroke="#a6a6a6" stroke-width="2"/>
<path transform="translate(1705,197.2)" d="M4.5 13.8C5.2 12.8 6.0 12.3 6.6 12.4C7.4 12.6 8.4 14.2 10.0 16.6C13.5 10.5 18.5 4.8 23.9 1.9L24.1 2.4C19.2 6.5 14.6 13.0 11.3 20.0C10.7 21.2 9.9 21.5 9.3 21.0C8.6 20.3 7.0 16.2 4.5 13.8Z" fill="#7cc644"/>
<g font-family="Liberation Sans, sans-serif"><text x="1746.0" y="217.4" font-size="23.1" textLength="91.0" lengthAdjust="spacingAndGlyphs" fill="#ffffff" text-anchor="start">Bedroom</text></g></svg>
</body></html>
